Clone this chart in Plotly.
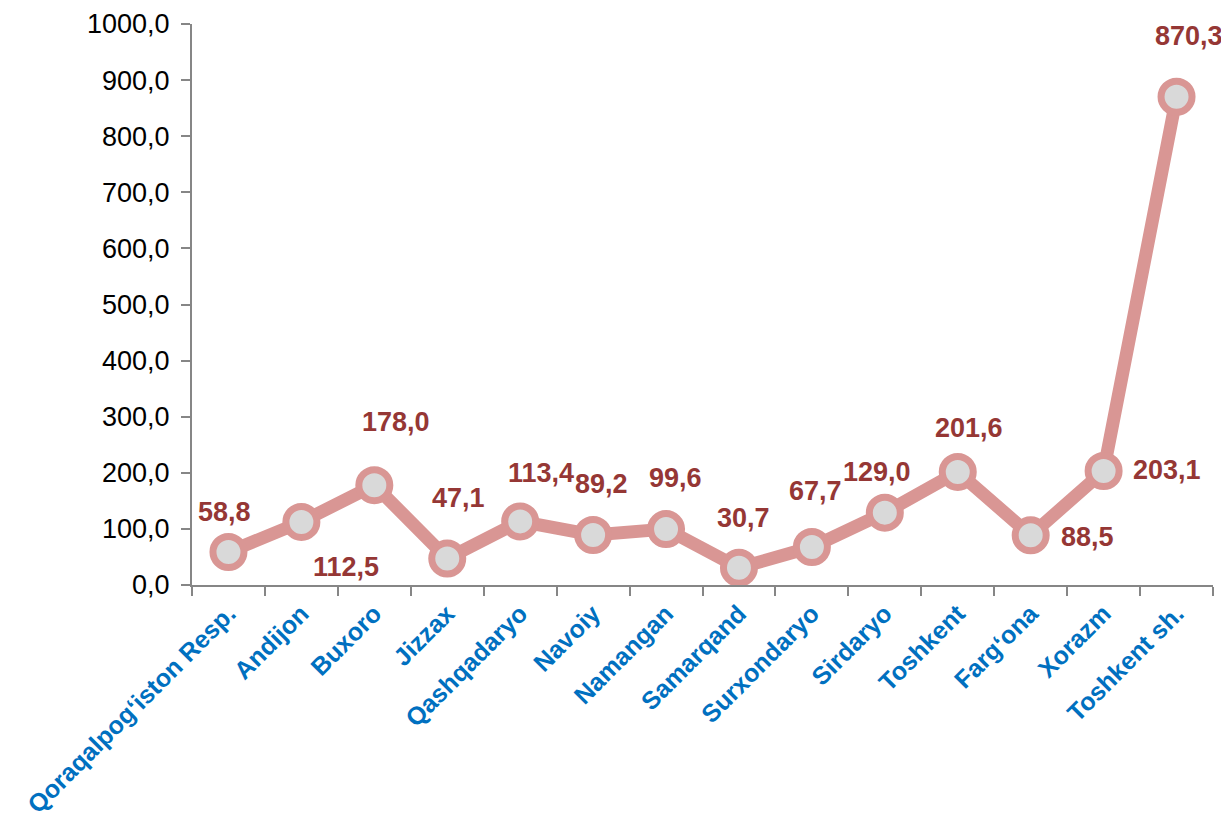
"""Line chart of regional values with manually placed data labels."""

import plotly.graph_objects as go


# ----- Data -----
REGIONS = [
    "Qoraqalpog‘iston Resp.", "Andijon", "Buxoro", "Jizzax", "Qashqadaryo",
    "Navoiy", "Namangan", "Samarqand", "Surxondaryo", "Sirdaryo",
    "Toshkent", "Farg‘ona", "Xorazm", "Toshkent sh.",
]
VALUES = [
    58.8, 112.5, 178.0, 47.1, 113.4, 89.2, 99.6,
    30.7, 67.7, 129.0, 201.6, 88.5, 203.1, 870.3,
]
Y_TICKS = [0, 100, 200, 300, 400, 500, 600, 700, 800, 900, 1000]

# label offsets in pixels (dx, dy up), mimicking the hand-placed Excel labels
LABEL_SHIFTS = [
    (-4, 40), (45, -45), (22, 63), (11, 61), (21, 48), (8, 51), (9, 51),
    (5, 50), (4, 56), (-8, 41), (11, 44), (57, -2), (63, 1), (12, 61),
]

LINE_COLOR = "#D99694"
LABEL_COLOR = "#953735"
CATEGORY_COLOR = "#0070C0"
AXIS_COLOR = "#868686"
FONT = "Liberation Sans, Arial, sans-serif"


fig = go.Figure()
fig.add_trace(go.Scatter(
    x=REGIONS,
    y=VALUES,
    mode="lines+markers",
    line=dict(color=LINE_COLOR, width=13),
    marker=dict(size=31, color="#D9D9D9", line=dict(color=LINE_COLOR, width=7)),
    cliponaxis=False,
    hoverinfo="x+y",
))

for region, value, (dx, dy) in zip(REGIONS, VALUES, LABEL_SHIFTS):
    fig.add_annotation(
        x=region,
        y=value,
        text=f"{value:.1f}".replace(".", ","),
        showarrow=False,
        xshift=dx,
        yshift=dy,
        font=dict(family=FONT, size=27, color=LABEL_COLOR, weight="bold"),
    )

# the page body adds 8px around the figure, so the size is trimmed by that
fig.update_layout(
    width=1221,
    height=819,
    template="plotly_white",
    plot_bgcolor="white",
    paper_bgcolor="white",
    showlegend=False,
    separators=", ",
    font=dict(family=FONT),
    margin={"t": 16, "r": 16, "b": 242, "l": 184},
)
fig.update_xaxes(
    type="category",
    range=[-0.5, len(REGIONS) - 0.5],
    automargin=False,
    tickangle=-45,
    tickson="boundaries",
    ticks="outside",
    ticklen=9,
    tickwidth=2,
    tickcolor=AXIS_COLOR,
    ticklabelstandoff=2,
    showline=True,
    linecolor=AXIS_COLOR,
    linewidth=2,
    showgrid=False,
    zeroline=False,
    tickfont=dict(family=FONT, size=25, color=CATEGORY_COLOR, weight="bold"),
)
fig.update_yaxes(
    range=[0, 1000],
    automargin=False,
    tickvals=Y_TICKS,
    tickformat=".1f",
    ticks="outside",
    ticklen=9,
    tickwidth=2,
    tickcolor=AXIS_COLOR,
    ticklabelstandoff=6,
    showline=True,
    linecolor=AXIS_COLOR,
    linewidth=2,
    showgrid=False,
    zeroline=False,
    tickfont=dict(family=FONT, size=27, color="black"),
)

fig.write_html("out.html")
